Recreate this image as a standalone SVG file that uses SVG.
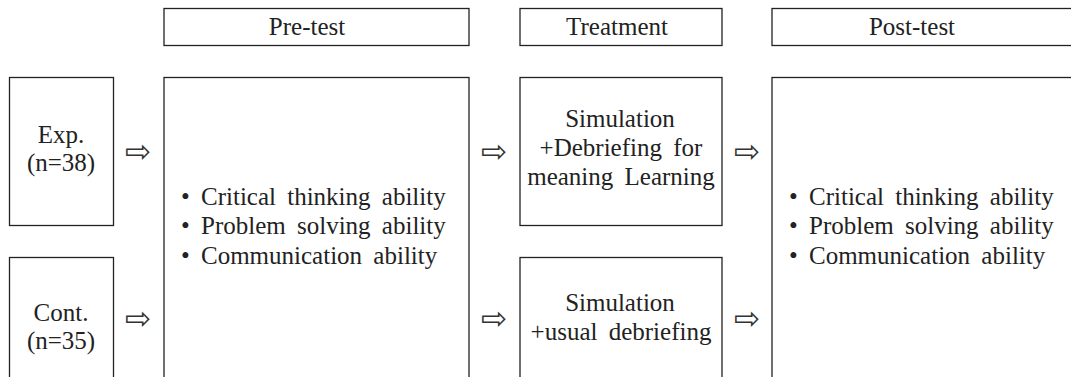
<svg xmlns="http://www.w3.org/2000/svg" width="1071" height="377" viewBox="0 0 1071 377">
<style>
.box{fill:#fff;stroke:#222;stroke-width:1.3}
.t{font-family:"Liberation Serif","Times New Roman",serif;font-size:25px;fill:#222;word-spacing:5px}
.c{text-anchor:middle}
.arr{font-family:"DejaVu Sans",sans-serif;font-size:31px;fill:#333;text-anchor:middle}
</style>
<rect width="1071" height="377" fill="#fff"/>
<g id="hdr-pre"><rect class="box" x="164" y="8.5" width="305" height="37"/><text class="t c" x="307" y="35">Pre-test</text></g>
<g id="hdr-treat"><rect class="box" x="520" y="8.5" width="202" height="37"/><text class="t c" x="617" y="35">Treatment</text></g>
<g id="hdr-post"><rect class="box" x="772" y="8.5" width="310" height="37"/><text class="t c" x="912" y="35">Post-test</text></g>
<g id="exp"><rect class="box" x="9.5" y="77.5" width="104" height="148"/><text class="t c" x="61" y="143">Exp.</text><text class="t c" x="61" y="171">(n=38)</text></g>
<g id="cont"><rect class="box" x="9.5" y="257.5" width="104" height="130"/><text class="t c" x="61" y="321">Cont.</text><text class="t c" x="61" y="349">(n=35)</text></g>
<g id="pretest"><rect class="box" x="164" y="77.5" width="305" height="310"/>
<text class="t" x="181" y="205">• Critical thinking ability</text>
<text class="t" x="181" y="234">• Problem solving ability</text>
<text class="t" x="181" y="264">• Communication ability</text></g>
<g id="treat-exp"><rect class="box" x="520" y="77.5" width="202" height="148"/>
<text class="t c" x="620" y="127">Simulation</text>
<text class="t c" x="621" y="156">+Debriefing for</text>
<text class="t c" x="621" y="185">meaning Learning</text></g>
<g id="treat-cont"><rect class="box" x="520" y="257.5" width="202" height="130"/>
<text class="t c" x="620" y="311">Simulation</text>
<text class="t c" x="621" y="340">+usual debriefing</text></g>
<g id="posttest"><rect class="box" x="772" y="77.5" width="310" height="310"/>
<text class="t" x="789" y="205">• Critical thinking ability</text>
<text class="t" x="789" y="234">• Problem solving ability</text>
<text class="t" x="789" y="264">• Communication ability</text></g>
<g id="connectors">
<text class="arr" x="138" y="162">⇨</text>
<text class="arr" x="138" y="329">⇨</text>
<text class="arr" x="494" y="162">⇨</text>
<text class="arr" x="494" y="329">⇨</text>
<text class="arr" x="747" y="162">⇨</text>
<text class="arr" x="747" y="329">⇨</text>
</g>
</svg>
